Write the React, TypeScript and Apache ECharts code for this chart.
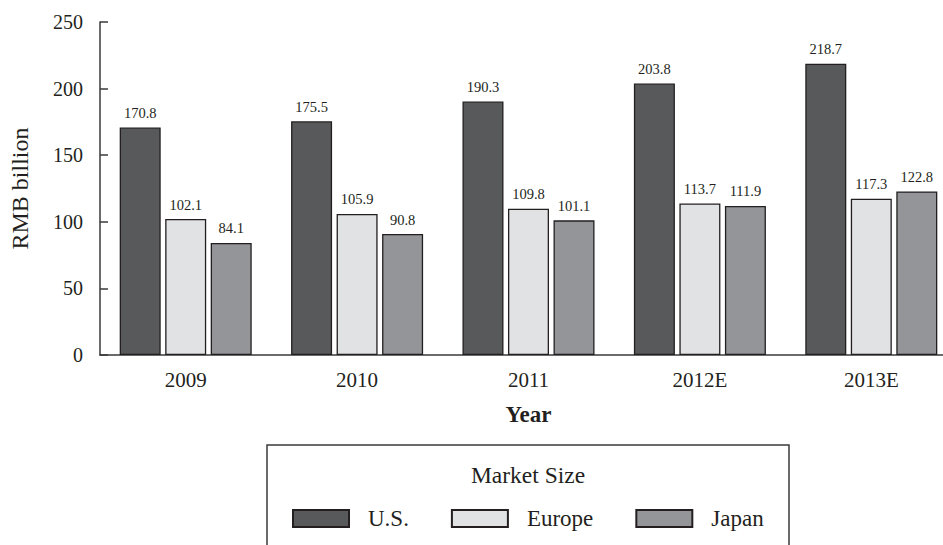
import React, { useEffect, useRef } from "react";
import * as echarts from "echarts";

const years = ["2009", "2010", "2011", "2012E", "2013E"];
const usValues = [170.8, 175.5, 190.3, 203.8, 218.7];
const europeValues = [102.1, 105.9, 109.8, 113.7, 117.3];
const japanValues = [84.1, 90.8, 101.1, 111.9, 122.8];
const seriesNames = ["U.S.", "Europe", "Japan"];
const seriesColors = ["#58595b", "#e1e2e4", "#939598"];

const FONT = "'Liberation Serif', 'Times New Roman', serif";
const INK = "#231f20";
const AXIS = "#3a3a3a";

export default function App() {
  const ref = useRef<HTMLDivElement>(null);

  useEffect(() => {
    if (!ref.current) return;
    const chart = echarts.init(ref.current, undefined, { renderer: "svg" });
    const values = [usValues, europeValues, japanValues];

    chart.setOption({
      animation: false,
      backgroundColor: "#ffffff",
      textStyle: { fontFamily: FONT, color: INK },
      grid: {
        left: 100,
        right: -14,
        top: 22,
        bottom: 190,
        containLabel: false,
        outerBoundsMode: "none",
      },
      xAxis: {
        type: "category",
        data: years,
        name: "Year",
        nameLocation: "middle",
        nameGap: 48,
        nameTextStyle: { fontFamily: FONT, fontSize: 23, fontWeight: "bold", color: INK },
        axisLine: { lineStyle: { color: AXIS, width: 1.5 } },
        axisTick: { inside: true, length: 8, lineStyle: { color: AXIS, width: 1.5 } },
        axisLabel: { fontFamily: FONT, fontSize: 21, color: INK, margin: 14 },
      },
      yAxis: {
        type: "value",
        min: 0,
        max: 250,
        interval: 50,
        name: "RMB billion",
        nameLocation: "middle",
        nameGap: 68,
        nameRotate: 90,
        nameTextStyle: { fontFamily: FONT, fontSize: 24, color: INK },
        axisLine: { show: true, lineStyle: { color: AXIS, width: 1.5 } },
        axisTick: { show: true, inside: true, length: 8, lineStyle: { color: AXIS, width: 1.5 } },
        axisLabel: { fontFamily: FONT, fontSize: 20, color: INK, margin: 17 },
        splitLine: { show: false },
      },
      legend: {
        left: 292,
        top: 507,
        padding: 0,
        itemWidth: 56,
        itemHeight: 17,
        itemGap: 42,
        icon: "rect",
        data: seriesNames,
        textStyle: { fontFamily: FONT, fontSize: 23, color: INK, padding: [0, 0, 0, 14] },
      },
      graphic: [
        {
          type: "rect",
          shape: { x: 267, y: 445, width: 522, height: 130 },
          style: { fill: "none", stroke: AXIS, lineWidth: 1.5 },
          z: -1,
        },
        {
          type: "text",
          x: 528,
          y: 475,
          style: {
            text: "Market Size",
            fontFamily: FONT,
            fontSize: 23.5,
            fill: INK,
            align: "center",
            verticalAlign: "middle",
          },
        },
      ],
      series: seriesNames.map((name, i) => ({
        name,
        type: "bar",
        data: values[i],
        barWidth: 41,
        barGap: "11%",
        itemStyle: { color: seriesColors[i], borderColor: INK, borderWidth: 1.3 },
        label: {
          show: true,
          position: "top",
          distance: 7,
          fontFamily: FONT,
          fontSize: 14.5,
          color: INK,
        },
      })),
    });

    return () => chart.dispose();
  }, []);

  return (
    <div
      ref={ref}
      style={{ position: "fixed", left: 0, top: 0, width: 943, height: 545 }}
    />
  );
}
